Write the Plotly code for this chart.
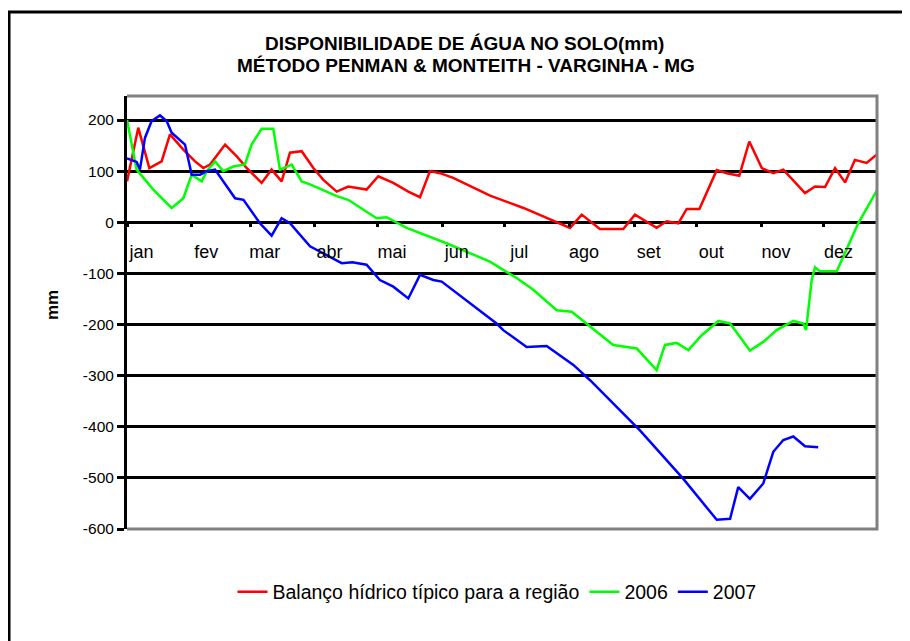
import plotly.graph_objects as go

# ---- data ----
month_labels = ["jan", "fev", "mar", "abr", "mai", "jun", "jul", "ago", "set", "out", "nov", "dez"]
month_start_day = [0, 31, 59, 90, 120, 151, 181, 212, 243, 273, 304, 334]

y_tick_values = [-600, -500, -400, -300, -200, -100, 0, 100, 200]
y_tick_labels = ["-600", "-500", "-400", "-300", "-200", "-100", "0", "100", "200"]

series_names = ["Balanço hídrico típico para a região", "2006", "2007"]

typical_days = [0, 5.4, 10.7, 16.6, 20.6, 27, 32.6, 36.6, 39.8, 47, 52.6, 57.4, 64.5, 69.3, 74.1,
                78.1, 83.7, 89.3, 94.1, 100.5, 106, 114.8, 120.4, 127.6, 134.8, 140.4, 145.2, 150,
                156.3, 174, 190, 204.3, 212.3, 217.9, 226.6, 237.8, 243.4, 253.8, 258.6, 264.2,
                268.2, 274.3, 282.6, 287.4, 293.4, 298.2, 304.2, 309.7, 314.5, 324.9, 329.7, 334.5,
                339.3, 344.1, 348.8, 354.4, 359.2]
typical_vals = [80, 185, 106, 119, 172, 142, 119, 106, 113, 152, 129, 106, 77, 103, 80,
                136, 139, 106, 83, 60, 70, 64, 90, 77, 60, 49, 100, 96,
                87, 52, 28, 2, -11, 15, -13, -13, 15, -11, 2, -2,
                26, 26, 102, 96, 91, 158, 106, 96, 103, 57, 70, 69,
                106, 78, 122, 116, 132]

y2006_days = [0, 1.5, 4.6, 12.6, 21.4, 27, 31, 35.8, 38.2, 42.2, 46.1, 50.9, 56.5, 59.7, 64.5,
              70.1, 73.3, 78.9, 83.7, 87.7, 100.5, 106, 119.6, 124.4, 134, 153.1, 173.9, 180.3,
              186.7, 194.7, 205.9, 213.1, 221.9, 233, 244.3, 253.8, 257.8, 263.4, 269, 275.4,
              283.4, 289, 298.5, 304.9, 311.3, 319.3, 324.1, 325.4, 328.1, 329.7, 332.1, 340.1,
              350.4, 360]
y2006_vals = [200, 170, 103, 64, 28, 47, 93, 80, 100, 119, 100, 109, 113, 152, 183,
              183, 103, 113, 80, 74, 51, 44, 8, 10, -11, -41, -77, -93,
              -109, -132, -172, -175, -204, -240, -247, -289, -240, -236, -250, -221,
              -193, -198, -251, -234, -211, -193, -198, -211, -113, -88, -96, -96,
              -2, 67]

y2007_days = [0, 4.6, 6.2, 8.6, 11.8, 15.8, 19, 21.4, 27.8, 31, 35, 38.2, 42.2, 51.8, 55.8,
              63.7, 69.3, 74.1, 78.1, 87.7, 102.9, 108, 114.8, 119.6, 121.2, 127.6, 134.8, 140.4,
              146.8, 150.8, 177.1, 180.3, 191.5, 201.1, 213.9, 221.9, 245.8, 266.6, 282.6, 289,
              292.9, 298.5, 304.9, 309.7, 314.5, 319.3, 324.9, 331.2]
y2007_vals = [125, 118, 103, 165, 198, 209, 198, 175, 152, 93, 93, 100, 103, 47, 44,
              -2, -26, 8, -2, -47, -80, -78, -83, -106, -113, -126, -149, -103,
              -113, -116, -198, -211, -244, -242, -279, -309, -407, -502, -582, -580,
              -518, -541, -511, -449, -426, -419, -438, -440]

# ---- layout constants (pixels; the page body adds an 8px offset) ----
OFF = 8
W, H = 910 - OFF, 641 - OFF
ML, MT = 127 - OFF, 96 - OFF
MR = W - (877 - OFF)
MB = H - (529 - OFF)
PW, PH = W - ML - MR, H - MT - MB
X_RANGE = [0, 359.4]
Y_RANGE = [-600, 247]
FONT = "Liberation Sans, Arial, sans-serif"


def px_x(px):
    # reference-screen x -> paper fraction
    return (px - OFF - ML) / PW


def px_y(py):
    # reference-screen y -> paper fraction
    return (H - MB - (py - OFF)) / PH


colors = ["#FF0000", "#00FF00", "#0000FF"]
fig = go.Figure()
for name, xs, ys, c in zip(series_names,
                           [typical_days, y2006_days, y2007_days],
                           [typical_vals, y2006_vals, y2007_vals], colors):
    fig.add_trace(go.Scatter(x=xs, y=ys, mode="lines", name=name,
                             line=dict(color=c, width=2.5), hoverinfo="x+y+name"))

# invisible trace to carry the month-label axis
fig.add_trace(go.Scatter(x=month_start_day, y=[None] * len(month_start_day), xaxis="x2",
                         showlegend=False, hoverinfo="skip", mode="lines"))

zero_pos = (0 - Y_RANGE[0]) / (Y_RANGE[1] - Y_RANGE[0])
label_days = [d + 7 for d in month_start_day]

fig.update_layout(
    width=W, height=H, autosize=False,
    margin=dict(l=ML, r=MR, t=MT, b=MB, pad=0),
    paper_bgcolor="white", plot_bgcolor="white",
    font=dict(family=FONT, color="black"),
    showlegend=True,
    legend=dict(orientation="h", x=px_x(497), xanchor="center", y=px_y(592), yanchor="middle",
                font=dict(size=19.5, color="black", family=FONT),
                bgcolor="rgba(0,0,0,0)", traceorder="normal"),
    xaxis=dict(range=X_RANGE, anchor="free", position=zero_pos,
               tickmode="array", tickvals=month_start_day, showticklabels=False,
               ticks="outside", ticklen=4, tickwidth=3, tickcolor="black",
               showgrid=False, showline=False, zeroline=False, fixedrange=True),
    xaxis2=dict(range=X_RANGE, overlaying="x", anchor="free", position=zero_pos,
                tickmode="array", tickvals=label_days, ticktext=month_labels,
                ticks="", ticklabelstandoff=17,
                tickfont=dict(size=18, color="black", family=FONT),
                showgrid=False, showline=False, zeroline=False, fixedrange=True),
    yaxis=dict(range=Y_RANGE, tickmode="array", tickvals=y_tick_values, ticktext=y_tick_labels,
               ticks="outside", ticklen=7, tickwidth=3, tickcolor="black",
               tickfont=dict(size=15.5, color="black", family=FONT),
               showline=True, linecolor="black", linewidth=3,
               showgrid=True, gridcolor="black", gridwidth=3, zeroline=False, fixedrange=True),
    shapes=[
        # plot-area border (top, right, bottom) in grey
        dict(type="path", xref="paper", yref="paper",
             path="M 0,1 L 1,1 L 1,0 L 0,0", line=dict(color="#808080", width=3), layer="above"),
        # outer chart frame (left and top edges visible)
        dict(type="path", xref="paper", yref="paper",
             path=f"M {px_x(9)},{px_y(660)} L {px_x(9)},{px_y(12)} L {px_x(930)},{px_y(12)}",
             line=dict(color="black", width=3), layer="above"),
    ],
    annotations=[
        dict(text="<b>DISPONIBILIDADE DE ÁGUA NO SOLO(mm)</b>", xref="paper", yref="paper",
             x=px_x(464), y=px_y(44), xanchor="center", yanchor="middle", showarrow=False,
             font=dict(size=19, color="black", family=FONT)),
        dict(text="<b>MÉTODO PENMAN & MONTEITH - VARGINHA - MG</b>", xref="paper", yref="paper",
             x=px_x(466), y=px_y(65), xanchor="center", yanchor="middle", showarrow=False,
             font=dict(size=19, color="black", family=FONT)),
        dict(text="<b>mm</b>", xref="paper", yref="paper", x=px_x(52), y=px_y(305),
             xanchor="center", yanchor="middle", textangle=-90, showarrow=False,
             font=dict(size=17, color="black", family=FONT)),
    ],
)

fig.write_html("out.html")
